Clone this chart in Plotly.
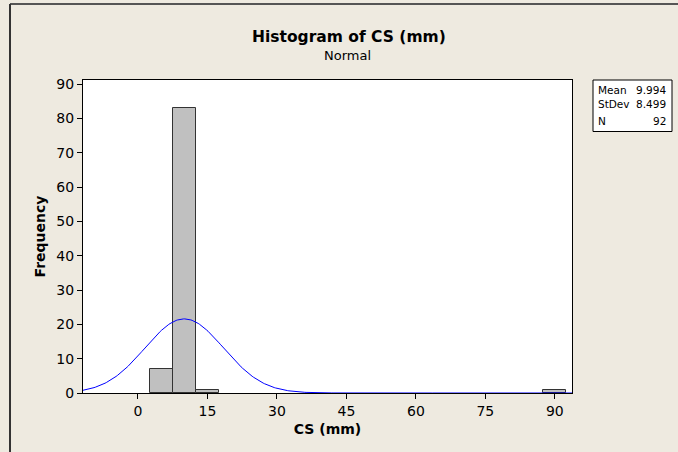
import numpy as np
import plotly.graph_objects as go

# Data
bin_centers = [5, 10, 15, 90]
bin_counts = [7, 83, 1, 1]
bin_width = 5
mean_val = 9.994
stdev_val = 8.499
n_val = 92
x_ticks = [0, 15, 30, 45, 60, 75, 90]
y_ticks = [0, 10, 20, 30, 40, 50, 60, 70, 80, 90]
stat_names = ["Mean", "StDev", "N"]
stat_values = [f"{mean_val}", f"{stdev_val}", f"{n_val}"]

W, H = 678, 452
L, R, T, B = 83, 572, 80, 393  # plot area in pixels
pw, ph = R - L, B - T

def px(x):
    return (x - L) / pw

def py(y):
    return (B - y) / ph

xr = [-11.86, 93.7]
yr = [0, 91.2]

# Fitted normal curve from the stated mean / stdev / N
xs = np.linspace(xr[0], xr[1], 400)
ys = n_val * bin_width * np.exp(-0.5 * ((xs - mean_val) / stdev_val) ** 2) / (stdev_val * np.sqrt(2 * np.pi))

font = "DejaVu Sans"
fig = go.Figure()
fig.add_trace(go.Bar(
    x=bin_centers, y=bin_counts, width=[bin_width] * len(bin_centers),
    marker=dict(color="#C0C0C0", line=dict(color="#333333", width=1)),
    hoverinfo="x+y", showlegend=False,
))
fig.add_trace(go.Scatter(
    x=xs, y=ys, mode="lines", line=dict(color="#0000FF", width=1),
    showlegend=False, hoverinfo="skip",
))

annotations = [
    dict(text="<b>Histogram of CS (mm)</b>", x=px(349), y=py(37), xref="paper", yref="paper",
         showarrow=False, font=dict(size=15.5, family=font), xanchor="center", yanchor="middle"),
    dict(text="Normal", x=px(347), y=py(56), xref="paper", yref="paper",
         showarrow=False, font=dict(size=13, family=font), xanchor="center", yanchor="middle"),
]
row_y = [89.5, 104.5, 121]
for name, val, ry in zip(stat_names, stat_values, row_y):
    annotations.append(dict(text=name, x=px(595.5), y=py(ry), xref="paper", yref="paper",
                            showarrow=False, xanchor="left", yanchor="middle",
                            font=dict(size=10.5, family=font)))
    annotations.append(dict(text=val, x=px(668), y=py(ry), xref="paper", yref="paper",
                            showarrow=False, xanchor="right", yanchor="middle",
                            font=dict(size=10.5, family=font)))

fig.update_layout(
    width=W, height=H,
    margin=dict(l=L, r=W - R, t=T, b=H - B, pad=0),
    paper_bgcolor="#EEEAE0", plot_bgcolor="#FFFFFF",
    bargap=0,
    font=dict(family=font, size=14, color="#000000"),
    xaxis=dict(
        range=xr, tickvals=x_ticks, ticks="outside", ticklen=5, tickcolor="#000",
        showline=True, linecolor="#000", linewidth=1, mirror=True,
        showgrid=False, zeroline=False,
        tickfont=dict(size=14, family=font),
        title=dict(text="<b>CS (mm)</b>", font=dict(size=14, family=font), standoff=6),
    ),
    yaxis=dict(
        range=yr, tickvals=y_ticks, ticks="outside", ticklen=5, tickcolor="#000",
        showline=True, linecolor="#000", linewidth=1, mirror=True,
        showgrid=False, zeroline=False,
        tickfont=dict(size=14, family=font),
        title=dict(text="<b>Frequency</b>", font=dict(size=14, family=font), standoff=7),
    ),
    annotations=annotations,
    shapes=[
        dict(type="rect", xref="paper", yref="paper", x0=px(593), x1=px(672), y0=py(80), y1=py(131.5),
             line=dict(color="#000", width=1), fillcolor="#FFFFFF", layer="below"),
        dict(type="line", xref="paper", yref="paper", x0=px(10), x1=px(678), y0=py(4), y1=py(4),
             line=dict(color="#555555", width=2)),
        dict(type="line", xref="paper", yref="paper", x0=px(10), x1=px(10), y0=py(4), y1=py(452),
             line=dict(color="#333333", width=2)),
    ],
)

fig.write_html("out.html", config={"displayModeBar": False},
               post_script="document.body.style.margin='0';document.body.style.overflow='hidden';")
